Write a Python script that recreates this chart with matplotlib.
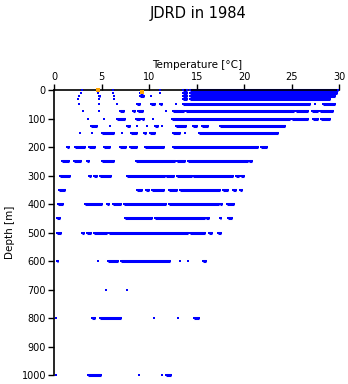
import matplotlib
matplotlib.use("Agg")
import matplotlib.pyplot as plt
import numpy as np

# runs of observations along each depth level: depth [m], lowest and highest temperature [degC]
run_depth = [0, 0, 0, 0, 0, 0,
             10, 10, 10, 10, 10, 10, 10,
             20, 20, 20, 20, 20, 20, 20,
             30, 30, 30, 30, 30,
             50, 50, 50, 50, 50, 50, 50, 50, 50, 50,
             75, 75, 75, 75, 75, 75, 75, 75, 75, 75, 75,
             100, 100, 100, 100, 100, 100, 100, 100, 100, 100,
             125, 125, 125, 125, 125, 125, 125, 125, 125, 125, 125,
             150, 150, 150, 150, 150, 150, 150, 150, 150, 150,
             200, 200, 200, 200, 200, 200, 200, 200, 200,
             250, 250, 250, 250, 250, 250, 250, 250,
             300, 300, 300, 300, 300, 300, 300, 300, 300, 300,
             350, 350, 350, 350, 350, 350, 350, 350, 350,
             400, 400, 400, 400, 400, 400, 400, 400,
             450, 450, 450, 450, 450, 450,
             500, 500, 500, 500, 500, 500, 500, 500,
             600, 600, 600, 600, 600, 600, 600,
             700, 700,
             800, 800, 800, 800, 800, 800,
             1000, 1000, 1000, 1000, 1000]
run_tmin = [2.9, 4.7, 6.2, 11.1, 13.5, 14.3,
            2.8, 4.6, 6.2, 9.0, 11.1, 13.5, 14.3,
            2.6, 4.7, 6.3, 9.0, 10.2, 13.5, 14.3,
            2.5, 4.7, 6.3, 13.6, 14.3,
            2.6, 4.7, 6.6, 8.7, 10.2, 11.1, 12.8, 13.6, 27.4, 28.3,
            3.0, 4.7, 6.9, 8.25, 8.85, 11.8, 12.5, 13.9, 25.4, 27.1, 28.0,
            3.6, 5.2, 6.6, 8.6, 9.2, 10.4, 12.4, 25.0, 27.2, 28.1,
            3.9, 5.9, 7.7, 8.7, 9.8, 10.6, 11.3, 12.8, 14.6, 15.5, 17.4,
            2.7, 4.0, 5.0, 7.1, 8.1, 9.4, 10.1, 12.5, 13.8, 15.2,
            1.3, 2.2, 3.7, 5.2, 6.9, 8.0, 9.5, 12.5, 21.8,
            0.8, 2.1, 3.4, 5.0, 8.6, 12.9, 14.1, 20.5,
            0.6, 3.7, 4.2, 4.8, 7.7, 11.8, 12.9, 19.1, 19.7, 14.6,
            0.5, 8.7, 9.7, 10.3, 12.1, 13.2, 17.8, 18.8, 19.5,
            0.4, 3.2, 5.6, 6.2, 7.3, 12.1, 17.4, 18.2,
            0.25, 7.4, 10.6, 16.0, 17.4, 18.3,
            0.3, 2.9, 3.4, 4.2, 5.8, 14.3, 16.3, 17.2,
            0.25, 4.6, 5.7, 7.0, 13.2, 14.1, 15.7,
            5.4, 7.7,
            0.2, 4.0, 4.8, 10.5, 13.0, 14.7,
            0.2, 3.5, 8.9, 11.3, 11.8]
run_tmax = [2.9, 4.7, 6.2, 11.1, 14.0, 29.9,
            2.8, 4.6, 6.2, 9.3, 11.1, 14.0, 29.8,
            2.6, 4.8, 6.3, 9.4, 10.2, 14.0, 29.6,
            2.5, 4.7, 6.3, 14.0, 29.0,
            2.6, 4.7, 6.6, 9.0, 10.6, 11.3, 12.8, 26.9, 27.4, 29.5,
            3.0, 4.7, 7.3, 8.5, 9.3, 11.8, 13.7, 25.2, 26.7, 27.8, 29.3,
            3.6, 5.2, 7.4, 9.0, 9.4, 10.4, 24.8, 26.7, 27.8, 29.0,
            4.5, 5.9, 8.0, 8.7, 9.8, 10.9, 11.3, 13.9, 15.0, 16.2, 24.3,
            2.7, 4.0, 6.3, 7.1, 8.7, 9.7, 10.6, 13.2, 13.8, 23.6,
            1.6, 3.2, 4.3, 5.9, 7.6, 8.7, 11.6, 21.4, 22.4,
            1.5, 2.8, 3.7, 6.3, 12.7, 13.8, 20.4, 20.8,
            1.7, 3.9, 4.5, 6.0, 11.7, 12.6, 14.5, 19.4, 20.0, 18.8,
            1.1, 9.2, 10.0, 11.5, 12.9, 17.4, 18.3, 19.1, 19.8,
            0.9, 5.0, 5.8, 7.0, 11.8, 17.3, 17.7, 18.9,
            0.6, 10.3, 15.9, 16.3, 17.6, 18.7,
            0.7, 3.1, 3.9, 5.6, 14.1, 15.9, 16.6, 17.5,
            0.4, 4.6, 6.7, 12.2, 13.2, 14.1, 16.0,
            5.4, 7.7,
            0.2, 4.3, 7.0, 10.5, 13.0, 15.2,
            0.2, 4.9, 8.9, 11.3, 12.3]

# two highlighted observations
orange_temp = [4.65, 9.2]
orange_depth = [0, 8]

depth_ticks = [0, 100, 200, 300, 400, 500, 600, 700, 800, 900, 1000]
temp_ticks = [0, 5, 10, 15, 20, 25, 30]

blue = '#0000ff'

fig = plt.figure(figsize=(3.48, 3.84), dpi=100)
ax = fig.add_axes([0.156, 0.0234, 0.819, 0.7422])

ax.hlines(run_depth, run_tmin, run_tmax, colors=blue, linewidth=2.2, clip_on=False)
ax.scatter(run_tmin + run_tmax, run_depth + run_depth, s=4.5, marker='s', color=blue,
           linewidths=0, clip_on=False, zorder=3)
ax.scatter(orange_temp, orange_depth, s=6, marker='s', color='#ffa500', linewidths=0,
           clip_on=False, zorder=4)

ax.set_xlim(0, 30)
ax.set_ylim(1000, 0)
ax.xaxis.tick_top()
ax.xaxis.set_label_position('top')
ax.set_xticks(temp_ticks)
ax.set_yticks(depth_ticks)
ax.tick_params(labelsize=7, length=4, width=1, color='black', pad=2)
ax.set_xlabel('Temperature [°C]', fontsize=7.5, labelpad=3)
ax.set_ylabel('Depth [m]', fontsize=7.5, labelpad=5)

for side in ['right', 'bottom']:
    ax.spines[side].set_visible(False)
for side in ['top', 'left']:
    ax.spines[side].set_linewidth(1.2)

fig.text(0.568, 0.965, 'JDRD in 1984', ha='center', va='center', fontsize=10.5)

fig.savefig('out.png', dpi=100)
